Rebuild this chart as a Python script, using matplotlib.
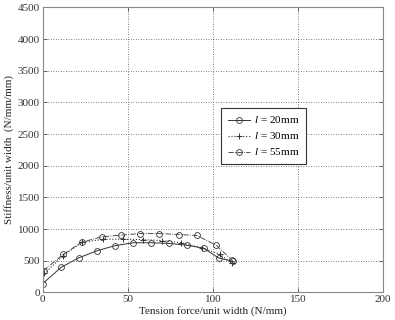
import matplotlib
matplotlib.use("Agg")
import matplotlib.pyplot as plt

x20 = [0, 11, 21.5, 32, 42.7, 53.3, 63.7, 74.3, 84.7, 94.5, 103.3, 112]
y20 = [140, 400, 550, 660, 740, 785, 785, 775, 745, 700, 545, 490]
x30 = [1, 12, 23, 35.5, 47.4, 58.8, 70, 81, 93.5, 104.3, 111]
y30 = [300, 580, 790, 840, 840, 835, 820, 785, 705, 600, 465]
x55 = [0.5, 12, 23, 35, 46, 57, 68.6, 80, 90.5, 102, 111]
y55 = [345, 600, 795, 880, 905, 930, 930, 915, 900, 745, 515]

xticks = [0, 50, 100, 150, 200]
yticks = [0, 500, 1000, 1500, 2000, 2500, 3000, 3500, 4000, 4500]

plt.rcParams['font.family'] = ['Liberation Serif', 'DejaVu Serif']
plt.rcParams['mathtext.fontset'] = 'custom'
plt.rcParams['mathtext.it'] = 'Liberation Serif:italic'
plt.rcParams['mathtext.rm'] = 'Liberation Serif'

fig = plt.figure(figsize=(3.95, 3.2), dpi=100)
ax = fig.add_axes([0.108, 0.086, 0.862, 0.891])

c = '#333333'
ax.plot(x20, y20, '-', marker='o', color=c, lw=0.7, ms=4.2, mfc='none', mew=0.6,
        label=r'$l\,=\,$20mm')
ax.plot(x30, y30, ':', marker='+', color=c, lw=0.8, ms=5, mew=0.7,
        label=r'$l\,=\,$30mm')
ax.plot(x55, y55, '-.', marker='o', color=c, lw=0.6, ms=4.2, mfc='none', mew=0.6,
        label=r'$l\,=\,$55mm')

ax.set_xlim(0, 200)
ax.set_ylim(0, 4500)
ax.set_xticks(xticks)
ax.set_yticks(yticks)
ax.tick_params(direction='in', labelsize=8, length=3, width=0.5, colors='#333333',
               top=True, right=True, pad=2)
ax.grid(True, linestyle=(0, (1, 2)), color='#555555', linewidth=0.6)
for s in ax.spines.values():
    s.set_color('#888888')
    s.set_linewidth(0.8)

ax.set_xlabel('Tension force/unit width (N/mm)', fontsize=8, labelpad=1, color='#222222')
ax.set_ylabel('Stiffness/unit width  (N/mm/mm)', fontsize=8, labelpad=3, color='#222222')

leg = ax.legend(loc='upper left', bbox_to_anchor=(0.525, 0.648), fontsize=8,
                frameon=True, fancybox=False, edgecolor='#333333', framealpha=1,
                handlelength=2.0, handletextpad=0.3, borderpad=0.6, labelspacing=0.45,
                borderaxespad=0)
leg.get_frame().set_linewidth(0.8)

fig.savefig('out.png', dpi=100)
